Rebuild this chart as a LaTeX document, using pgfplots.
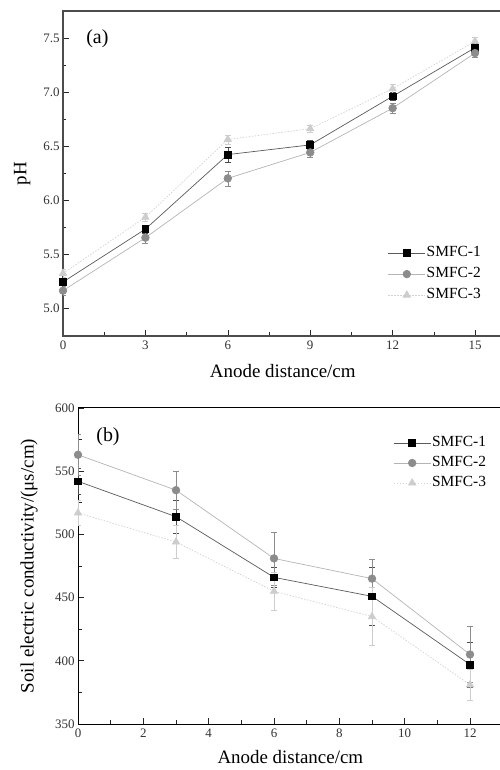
\documentclass[border=0pt]{standalone}
\usepackage{fontspec}
\setmainfont{Liberation Serif}
\usepackage{pgfplots}
\pgfplotsset{compat=1.18}
\definecolor{cA}{HTML}{000000}
\definecolor{cAl}{HTML}{5A5A5A}
\definecolor{cB}{HTML}{8C8C8C}
\definecolor{cBl}{HTML}{B4B4B4}
\definecolor{cC}{HTML}{CDCDCD}
\definecolor{cCl}{HTML}{D2D2D2}
\pgfplotsset{
  common/.style={
    scale only axis,
    anchor=south west,
    axis line style={line width=0.9bp, color=black!80},
    tick style={line width=0.6bp, color=black!85},
    tick align=inside,
    xtick pos=bottom, ytick pos=left,
    major tick length=6bp, minor tick length=3.5bp,
    minor x tick num=1, minor y tick num=1,
    ticklabel style={font=\fontsize{13}{15}\selectfont, color=black!80},
    xticklabel style={yshift=-1bp},
    /pgf/number format/assume math mode=true,
    label style={font=\fontsize{19}{22}\selectfont},
    legend cell align=left,
    legend image code/.code={%
      \draw[mark repeat=2, mark phase=2, #1] plot coordinates {(0bp,0bp) (18.5bp,0bp) (37bp,0bp)};},
    legend style={draw=none, fill=none, inner sep=0pt,
      font=\fontsize{15.5}{17}\selectfont,
      nodes={inner sep=1bp, text height=11bp, text depth=3.5bp}},
    error bars/y dir=both, error bars/y explicit,
    error bars/error mark options={rotate=90, mark size=3bp, line width=0.5bp},
    error bars/error bar style={line width=0.5bp},
  },
  s1/.style={color=cAl, line width=0.7bp, mark=square*, mark size=3.4bp,
    mark options={solid, fill=cA, draw=cA},
    error bars/error bar style={color=cA!70, line width=0.5bp}},
  s2/.style={color=cBl, line width=0.7bp, mark=*, mark size=3.8bp,
    mark options={solid, fill=cB, draw=cB},
    error bars/error bar style={color=cB, line width=0.5bp}},
  s3/.style={color=cCl, line width=0.7bp, dash pattern=on 1.5bp off 1.5bp, mark=triangle*, mark size=4.2bp,
    mark options={solid, fill=cC, draw=cC},
    error bars/error bar style={color=cC, solid, line width=0.5bp}},
}
\begin{document}
\begin{tikzpicture}
\useasboundingbox (0bp,0bp) rectangle (500bp,770bp);
% ---------- (a) ----------
\begin{axis}[common,
  at={(63bp,434bp)}, width=439.5bp, height=325bp,
  xmin=0, xmax=16, ymin=4.74, ymax=7.75,
  xtick={0,3,6,9,12,15},
  ytick={5.0,5.5,6.0,6.5,7.0,7.5},
  yticklabel style={/pgf/number format/fixed, /pgf/number format/fixed zerofill, /pgf/number format/precision=1},
  xlabel={Anode distance/cm}, ylabel={pH},
  x label style={at={(axis description cs:0.5,-0.129)}, anchor=base},
  y label style={at={(axis description cs:-0.093,0.5)}, anchor=center},
  legend style={at={(axis description cs:0.739,0.281)}, anchor=north west, row sep=4.5bp},
  axis line style={line width=1.2bp, color=black!70},
]
\addplot[s1] coordinates {(0,5.24) +- (0,0.04) (3,5.73) +- (0,0.04) (6,6.42) +- (0,0.07) (9,6.51) +- (0,0.04) (12,6.96) +- (0,0.04) (15,7.41) +- (0,0.04)};
\addplot[s2] coordinates {(0,5.16) +- (0,0.04) (3,5.65) +- (0,0.05) (6,6.20) +- (0,0.07) (9,6.44) +- (0,0.04) (12,6.85) +- (0,0.05) (15,7.36) +- (0,0.04)};
\addplot[s3] coordinates {(0,5.32) +- (0,0.04) (3,5.84) +- (0,0.04) (6,6.56) +- (0,0.04) (9,6.66) +- (0,0.03) (12,7.03) +- (0,0.04) (15,7.47) +- (0,0.04)};
\legend{SMFC-1,SMFC-2,SMFC-3}
\node[anchor=west, font=\fontsize{20}{22}\selectfont] at (axis description cs:0.045,0.915) {(a)};
\end{axis}
% ---------- (b) ----------
\begin{axis}[common,
  at={(78bp,46bp)}, width=424.7bp, height=316bp,
  xmin=0, xmax=13, ymin=350, ymax=600,
  xtick={0,2,4,6,8,10,12},
  ytick={350,400,450,500,550,600},
  xlabel={Anode distance/cm}, ylabel={Soil electric conductivity/(μs/cm)},
  x label style={at={(axis description cs:0.5,-0.124)}, anchor=base},
  y label style={at={(axis description cs:-0.115,0.5)}, anchor=center},
  legend style={at={(axis description cs:0.742,0.916)}, anchor=north west, row sep=3.5bp},
  axis line style={line width=1bp, color=black},
]
\addplot[s1] coordinates {(0,542) +- (0,10) (3,514) +- (0,13) (6,466) +- (0,8) (9,451) +- (0,23) (12,397) +- (0,18)};
\addplot[s2] coordinates {(0,563) +- (0,16) (3,535) +- (0,15) (6,481) +- (0,21) (9,465) +- (0,15) (12,405) +- (0,22)};
\addplot[s3] coordinates {(0,517) +- (0,10) (3,494) +- (0,13) (6,455) +- (0,15) (9,435) +- (0,23) (12,381) +- (0,12)};
\legend{SMFC-1,SMFC-2,SMFC-3}
\node[anchor=west, font=\fontsize{20}{22}\selectfont] at (axis description cs:0.035,0.91) {(b)};
\end{axis}
\end{tikzpicture}
\end{document}
